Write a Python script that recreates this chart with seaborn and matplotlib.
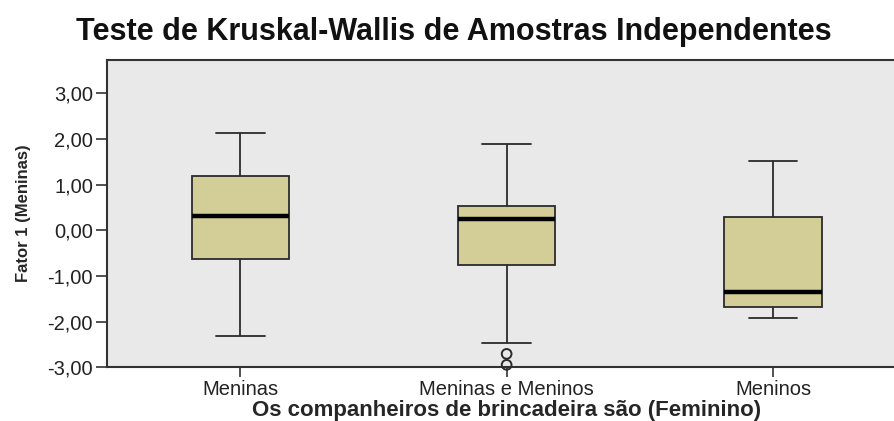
import matplotlib
matplotlib.use('Agg')
import matplotlib.pyplot as plt
import seaborn as sns
import pandas as pd

# Summary values
grupos = ['Meninas', 'Meninas e Meninos', 'Meninos']
whisker_low = [-2.32, -2.47, -1.92]
q1 = [-0.64, -0.75, -1.68]
mediana = [0.31, 0.24, -1.36]
q3 = [1.18, 0.54, 0.30]
whisker_high = [2.13, 1.89, 1.52]

# Outliers (only in "Meninas e Meninos")
outlier_grupo = ['Meninas e Meninos', 'Meninas e Meninos']
outlier_valor = [-2.71, -2.95]

rows = []
for i, g in enumerate(grupos):
    for v in [whisker_low[i], q1[i], mediana[i], q3[i], whisker_high[i]]:
        rows.append({'grupo': g, 'valor': v})
df = pd.DataFrame(rows)
df_out = pd.DataFrame({'grupo': outlier_grupo, 'valor': outlier_valor})

sns.set_style('white')
plt.rcParams['font.family'] = ['Liberation Sans', 'DejaVu Sans']

fig = plt.figure(figsize=(8.94, 4.21), dpi=100)
ax = fig.add_axes([0.1197, 0.128, 0.894, 0.729])
ax.set_facecolor('#e9e9e9')

edge = '#2b2b2b'
sns.boxplot(data=df, x='grupo', y='valor', order=grupos, whis=(0, 100),
            width=0.365, color='#d3ce98', linecolor=edge, linewidth=1.3,
            saturation=1, showfliers=False,
            boxprops={'facecolor': '#d3ce98', 'edgecolor': edge},
            medianprops={'color': 'black', 'linewidth': 3.2},
            ax=ax)
sns.stripplot(data=df_out, x='grupo', y='valor', order=grupos, jitter=False,
              color='none', edgecolor=edge, linewidth=1.4, size=7,
              marker='o', ax=ax, zorder=5)
for coll in ax.collections:
    if len(coll.get_offsets()) > 0:
        coll.set_clip_on(False)

ax.set_xlim(-0.5, 2.5)
ax.set_ylim(-3.0, 3.73)
yt = [-3, -2, -1, 0, 1, 2, 3]
ax.set_yticks(yt)
ax.set_yticklabels([f'{v:.2f}'.replace('.', ',') for v in yt], fontsize=14.5, color='#222222')
ax.set_xticks(range(len(grupos)))
ax.set_xticklabels(grupos, fontsize=14.5, color='#222222')
ax.tick_params(axis='y', direction='out', length=8, width=1.2, color='#333333', left=True, pad=2)
ax.tick_params(axis='x', direction='out', length=7, width=1.2, color='#333333', bottom=True, pad=2)

for s in ['left', 'bottom', 'top', 'right']:
    ax.spines[s].set_visible(True)
    ax.spines[s].set_color('#333333')
    ax.spines[s].set_linewidth(1.5)

ax.set_ylabel('Fator 1 (Meninas)', fontsize=12, fontweight='bold', labelpad=12)
ax.set_xlabel('Os companheiros de brincadeira são (Feminino)', fontsize=16,
              fontweight='bold', labelpad=1)
fig.text(0.508, 0.925, 'Teste de Kruskal-Wallis de Amostras Independentes',
         ha='center', va='center', fontsize=22, fontweight='bold', color='#111111')

fig.savefig('out.png', dpi=100)
